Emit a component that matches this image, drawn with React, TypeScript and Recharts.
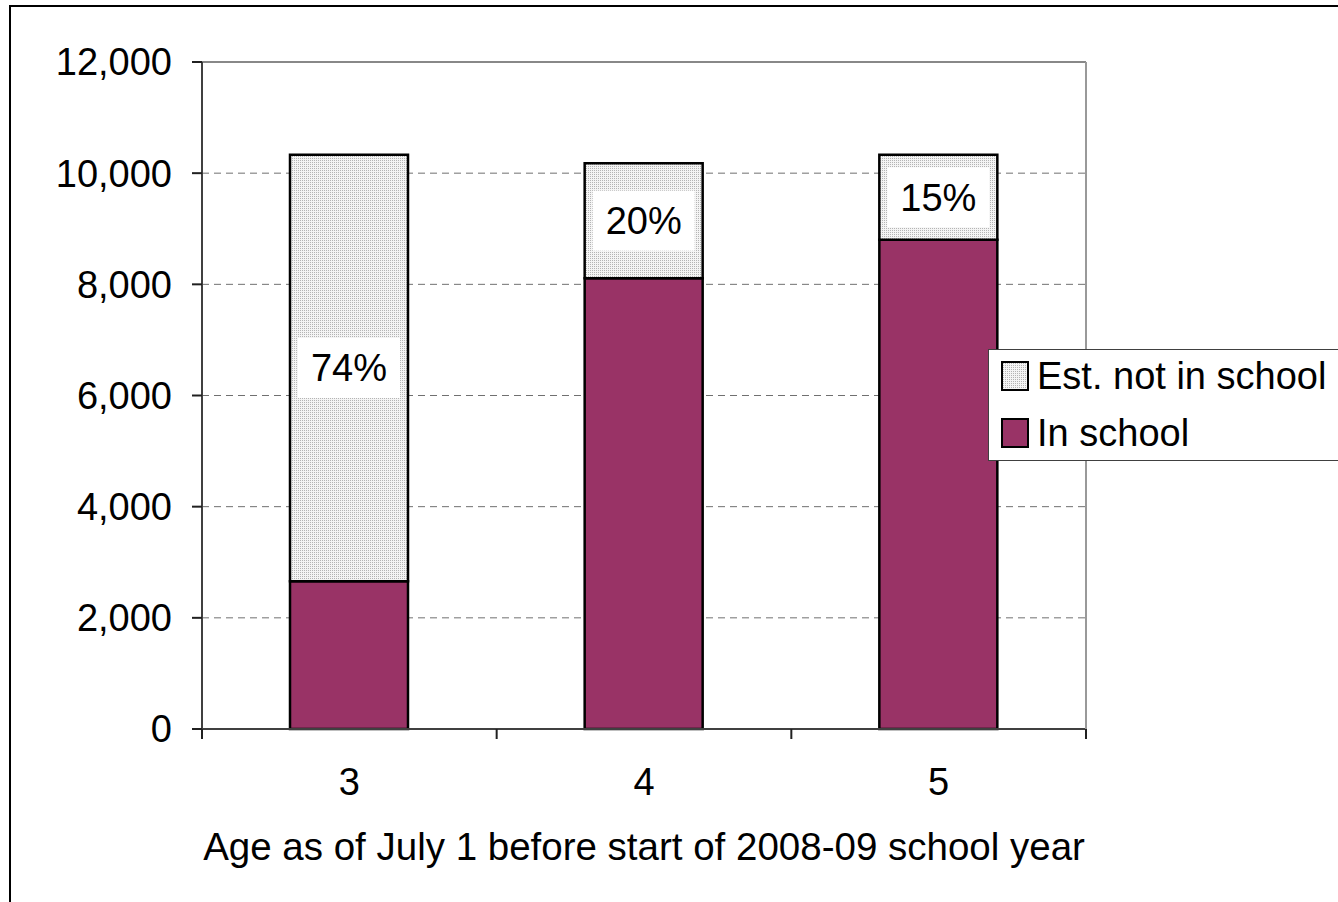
import { BarChart, Bar, XAxis, YAxis, CartesianGrid, LabelList } from 'recharts';

const ages = ['3', '4', '5'];
const inSchool = [2660, 8110, 8800];
const notInSchool = [7670, 2070, 1530];
const yTicks = [0, 2000, 4000, 6000, 8000, 10000, 12000];
const seriesNames = { inSchool: 'In school', notInSchool: 'Est. not in school' };
const xTitle = 'Age as of July 1 before start of 2008-09 school year';

const data = ages.map((age, i) => ({
  age,
  inSchool: inSchool[i],
  notInSchool: notInSchool[i],
  share: Math.round((notInSchool[i] / (inSchool[i] + notInSchool[i])) * 100),
}));

const FONT = '"Liberation Sans", Arial, Helvetica, sans-serif';
const FS = 38;
const PLUM = '#993366';
const W = 1338;
const H = 902;
const M = { top: 61, right: 251, bottom: 0, left: 0 };
const Y_AXIS_W = 202;
const PLOT_W = W - M.left - M.right - 1 - Y_AXIS_W;
const BAND = PLOT_W / ages.length;

// category label in the middle, tick marks on the band edges
function AgeTick(props: any) {
  const { x, y, payload, index } = props;
  const last = index === ages.length - 1;
  return (
    <g>
      <line x1={x - BAND / 2} x2={x - BAND / 2} y1={y} y2={y + 10} stroke="#202020" strokeWidth={2} />
      {last && <line x1={x + BAND / 2} x2={x + BAND / 2} y1={y} y2={y + 10} stroke="#202020" strokeWidth={2} />}
      <text x={x} y={y + 66} textAnchor="middle" fontSize={FS} fontFamily={FONT} fill="#000">
        {payload.value}
      </text>
    </g>
  );
}

function ShareLabel(props: any) {
  const { x, y, width, height, value } = props;
  const cx = x + width / 2;
  const cy = y + height / 2;
  return (
    <g>
      <rect x={cx - 51} y={cy - 30} width={102} height={60} fill="#fff" />
      <text x={cx} y={cy} dy="0.355em" textAnchor="middle" fontSize={FS} fontFamily={FONT} fill="#000">
        {value}%
      </text>
    </g>
  );
}

function Swatch({ fill }: { fill: string }) {
  return (
    <svg width={28} height={30} style={{ marginRight: 8, flexShrink: 0 }}>
      <rect x={1} y={1} width={26} height={28} fill={fill} stroke="#000" strokeWidth={2} />
    </svg>
  );
}

export default function App() {
  return (
    <div style={{ position: 'fixed', left: 0, top: 0, width: W, height: H, overflow: 'hidden', background: '#fff' }}>
      <svg width={0} height={0} style={{ position: 'absolute' }}>
        <defs>
          <pattern id="fineDots" width={2} height={2} patternUnits="userSpaceOnUse">
            <rect width={2} height={2} fill="#f4f4f4" />
            <rect x={0} y={0} width={1} height={1} fill="#b4b4b4" />
          </pattern>
        </defs>
      </svg>

      {/* chart area frame */}
      <div style={{ position: 'absolute', left: 9, top: 5, width: 1400, height: 1000, border: '2px solid #000' }} />

      <div style={{ position: 'absolute', left: 0, top: 0 }}>
        <BarChart width={W} height={H} data={data} margin={M}>
          <CartesianGrid vertical={false} stroke="#707070" strokeDasharray="7 5" />
          <XAxis
            dataKey="age"
            height={173}
            tickLine={false}
            tickSize={0}
            tickMargin={0}
            axisLine={{ stroke: '#404040', strokeWidth: 2 }}
            tick={<AgeTick />}
            label={{ value: xTitle, position: 'insideBottom', offset: 42, fill: '#000', fontSize: 38.5, fontFamily: FONT }}
          />
          <XAxis xAxisId="top" dataKey="age" orientation="top" height={1} tick={false} tickLine={false} axisLine={{ stroke: '#888', strokeWidth: 2 }} />
          <YAxis
            width={Y_AXIS_W}
            domain={[0, 12000]}
            ticks={yTicks}
            interval={0}
            tickSize={10}
            tickMargin={20}
            tickLine={{ stroke: '#202020', strokeWidth: 2 }}
            axisLine={{ stroke: '#404040', strokeWidth: 2 }}
            tickFormatter={(v: number) => v.toLocaleString('en-US')}
            tick={{ fill: '#000', fontSize: FS, fontFamily: FONT }}
          />
          <YAxis yAxisId="right" orientation="right" width={1} domain={[0, 12000]} tick={false} tickLine={false} axisLine={{ stroke: '#999', strokeWidth: 2 }} />
          <Bar dataKey="inSchool" name={seriesNames.inSchool} stackId="age" barSize={118} fill={PLUM} stroke="#000" strokeWidth={2.5} isAnimationActive={false} />
          <Bar dataKey="notInSchool" name={seriesNames.notInSchool} stackId="age" barSize={118} fill="url(#fineDots)" stroke="#000" strokeWidth={2.5} isAnimationActive={false}>
            <LabelList dataKey="share" content={<ShareLabel />} />
          </Bar>
        </BarChart>
      </div>

      {/* legend */}
      <div
        style={{
          position: 'absolute',
          left: 988,
          top: 349,
          width: 400,
          height: 110,
          border: '1px solid #404040',
          background: '#fff',
          fontFamily: FONT,
          fontSize: FS,
          color: '#000',
        }}
      >
        <div style={{ position: 'absolute', left: 12, top: 6, height: 40, display: 'flex', alignItems: 'center', whiteSpace: 'nowrap' }}>
          <Swatch fill="url(#fineDots)" />
          <span>{seriesNames.notInSchool}</span>
        </div>
        <div style={{ position: 'absolute', left: 12, top: 63, height: 40, display: 'flex', alignItems: 'center', whiteSpace: 'nowrap' }}>
          <Swatch fill={PLUM} />
          <span>{seriesNames.inSchool}</span>
        </div>
      </div>
    </div>
  );
}
